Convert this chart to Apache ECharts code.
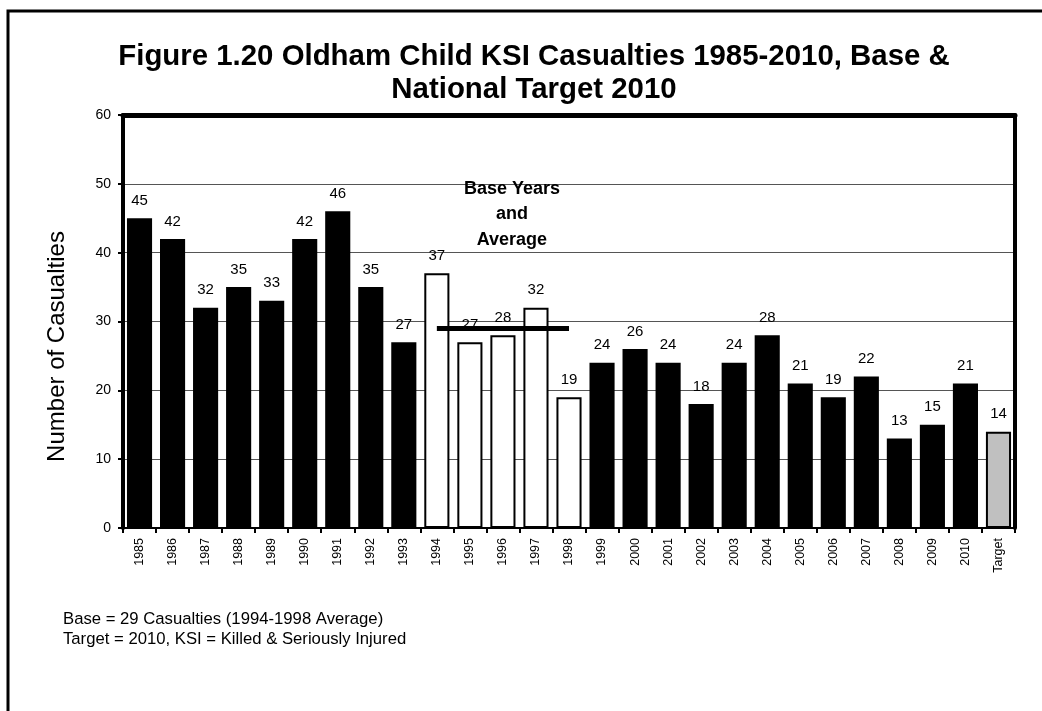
<!DOCTYPE html>
<html>
<head>
<meta charset="utf-8">
<script src="https://cdn.jsdelivr.net/npm/echarts@6/dist/echarts.min.js"></script>
<style>
  html, body { margin: 0; padding: 0; background: #fff; }
  #chart { width: 1042px; height: 711px; }
</style>
</head>
<body>
<div id="chart"></div>
<script>
// ---- Data ----
const categories = ['1985','1986','1987','1988','1989','1990','1991','1992','1993','1994','1995','1996','1997','1998','1999','2000','2001','2002','2003','2004','2005','2006','2007','2008','2009','2010','Target'];
const casualties = [45, 42, 32, 35, 33, 42, 46, 35, 27, 37, 27, 28, 32, 19, 24, 26, 24, 18, 24, 28, 21, 19, 22, 13, 15, 21, 14];
const baseYears = ['1994','1995','1996','1997','1998'];
const baseAverage = 29;
const targetCategory = 'Target';
const yTicks = [0, 10, 20, 30, 40, 50, 60];
const titleText = 'Figure 1.20 Oldham Child KSI Casualties 1985-2010, Base &\nNational Target 2010';
const annotationText = 'Base Years\nand\nAverage';
const annotationAt = ['1996', 45.6];
const footnotes = ['Base = 29 Casualties (1994-1998 Average)', 'Target = 2010, KSI = Killed & Seriously Injured'];

const FONT = '"Liberation Sans", Arial, sans-serif';

function styleFor(cat) {
  if (baseYears.indexOf(cat) >= 0) return { color: '#ffffff', borderColor: '#000', borderWidth: 2 };
  if (cat === targetCategory) return { color: '#c0c0c0', borderColor: '#000', borderWidth: 2 };
  return { color: '#000000' };
}

const barData = categories.map((c, i) => ({ value: casualties[i], itemStyle: styleFor(c) }));

const chart = echarts.init(document.getElementById('chart'));
chart.setOption({
  animation: false,
  backgroundColor: '#fff',
  textStyle: { fontFamily: FONT },
  graphic: [
    { type: 'rect', shape: { x: 8, y: 11, width: 1200, height: 900 }, style: { fill: 'none', stroke: '#000', lineWidth: 3 }, silent: true, z: 100 },
    { type: 'text', x: 534, y: 40, style: { text: titleText, align: 'center', verticalAlign: 'top', font: 'bold 29.4px ' + FONT, fill: '#000', lineHeight: 33 } },
    { type: 'text', left: 63, top: 609, style: { text: footnotes.join('\n'), font: '16.7px ' + FONT, fill: '#000', lineHeight: 20 } }
  ],
  grid: { left: 123, right: 27, top: 115, bottom: 183 },
  xAxis: [
    {
      type: 'category',
      data: categories,
      axisLine: { onZero: false, lineStyle: { color: '#000', width: 2 } },
      axisTick: { show: true, inside: false, length: 5, lineStyle: { color: '#000', width: 2 } },
      axisLabel: { rotate: 90, fontSize: 12.5, color: '#000', fontFamily: FONT, margin: 10 }
    },
    {
      type: 'category',
      data: categories,
      position: 'top',
      axisLine: { show: true, onZero: false, lineStyle: { color: '#000', width: 5 } },
      axisTick: { show: false },
      axisLabel: { show: false }
    }
  ],
  yAxis: [
    {
      type: 'value',
      min: yTicks[0],
      max: yTicks[yTicks.length - 1],
      interval: 10,
      name: 'Number of Casualties',
      nameLocation: 'middle',
      nameGap: 54,
      nameTextStyle: { fontSize: 24, color: '#000', fontFamily: FONT, padding: [0, 50, 0, 0] },
      axisLine: { show: true, onZero: false, lineStyle: { color: '#000', width: 4 } },
      axisTick: { show: true, length: 5, lineStyle: { color: '#000', width: 2 } },
      axisLabel: { fontSize: 14, color: '#000', fontFamily: FONT, margin: 12 },
      splitLine: { show: true, lineStyle: { color: '#555', width: 1 } }
    },
    {
      type: 'value',
      min: yTicks[0],
      max: yTicks[yTicks.length - 1],
      interval: 10,
      position: 'right',
      axisLine: { show: true, onZero: false, lineStyle: { color: '#000', width: 4 } },
      axisTick: { show: false },
      axisLabel: { show: false },
      splitLine: { show: false }
    }
  ],
  series: [
    {
      type: 'bar',
      data: barData,
      barCategoryGap: '24%',
      label: { show: true, position: 'top', distance: 10, fontSize: 15, color: '#000', fontFamily: FONT },
      markLine: {
        silent: true,
        symbol: 'none',
        z: 10,
        label: { show: false },
        lineStyle: { color: '#000', width: 5, type: 'solid' },
        data: [[{ coord: [baseYears[0], baseAverage] }, { coord: [baseYears[baseYears.length - 1], baseAverage] }]]
      },
      markPoint: {
        symbol: 'circle',
        symbolSize: 0,
        label: { show: true, formatter: annotationText, offset: [9, 0], fontSize: 18, fontWeight: 'bold', color: '#000', fontFamily: FONT, lineHeight: 25.5, align: 'center' },
        data: [{ coord: annotationAt }]
      }
    }
  ]
});
</script>
</body>
</html>
